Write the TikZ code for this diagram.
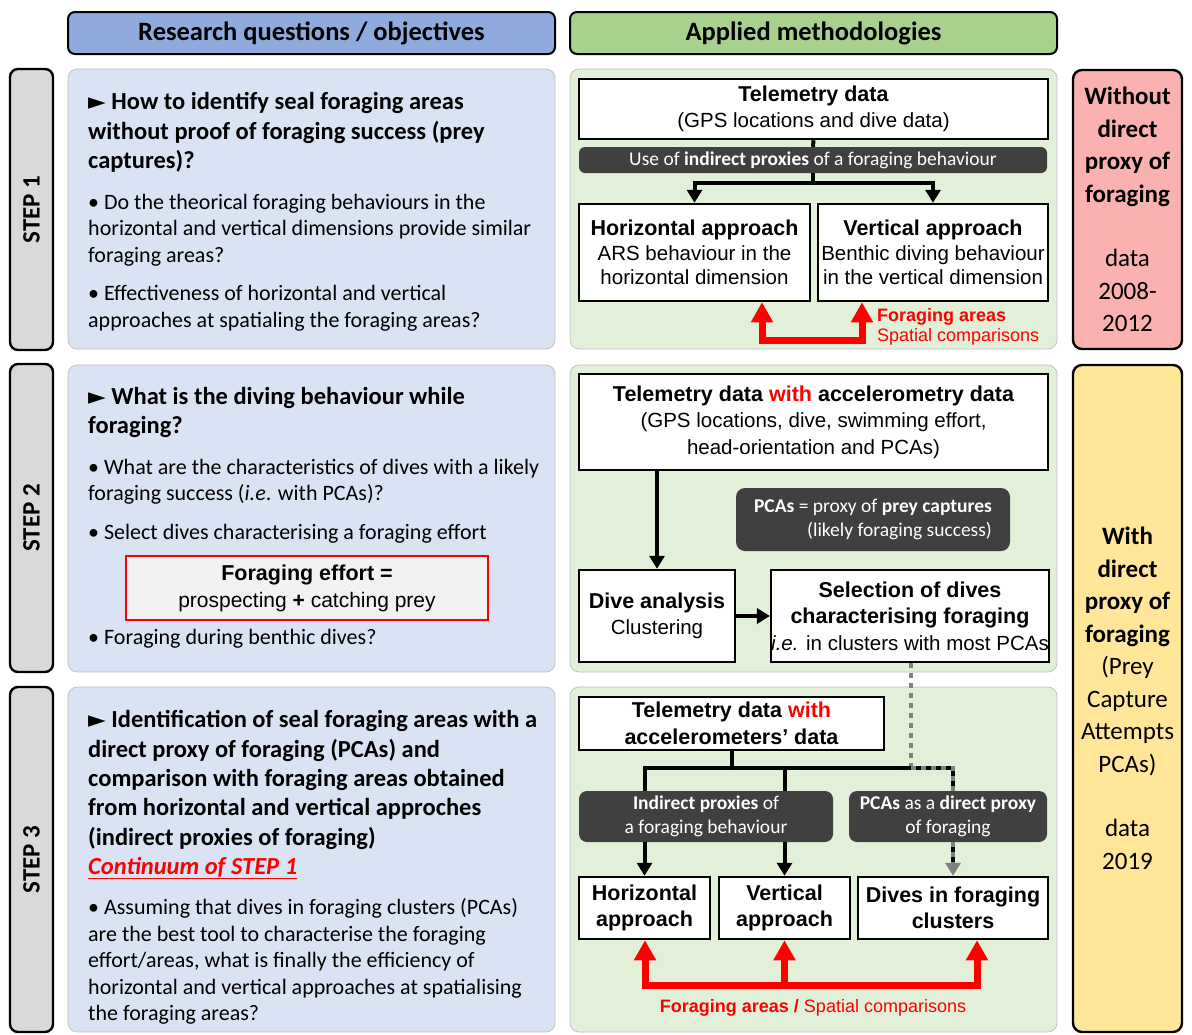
\documentclass[tikz,border=0pt]{standalone}
\usepackage{fontspec}
\setmainfont{Carlito}
\newfontfamily\arialfont{Liberation Sans}
\newfontfamily\symfont{DejaVu Sans}
\usetikzlibrary{arrows.meta}

\definecolor{hblue}{RGB}{143,170,220}
\definecolor{hgreen}{RGB}{169,209,142}
\definecolor{pblue}{RGB}{218,227,243}
\definecolor{pgreen}{RGB}{226,240,217}
\definecolor{stepgray}{RGB}{217,217,217}
\definecolor{bandgray}{RGB}{64,64,64}
\definecolor{pinkbox}{RGB}{250,177,175}
\definecolor{yellowbox}{RGB}{255,230,153}
\definecolor{effortgray}{RGB}{242,242,242}

\newcommand{\tri}{{\symfont\fontsize{23}{20}\selectfont ►}}
\newcommand{\hd}[1]{{\fontsize{21.5}{26.5}\selectfont\bfseries #1}}

\begin{document}
\begin{tikzpicture}[x=1pt, y=-1pt,
    head/.style={draw, line width=2pt, rounded corners=7pt, minimum width=487pt, minimum height=42pt, font=\fontsize{26.5}{30}\selectfont\bfseries},
    stepbox/.style={draw, line width=2.4pt, fill=stepgray, rounded corners=8pt, rotate=90, minimum height=43pt, font=\fontsize{25}{28}\selectfont\bfseries},
    panel/.style={draw=black!25, line width=0.7pt, rounded corners=9pt, minimum width=487pt},
    sidebox/.style={draw, line width=2.4pt, rounded corners=9pt, minimum width=109pt, align=center, font=\fontsize{25}{32.5}\selectfont},
    qtext/.style={anchor=west, align=left, inner sep=0pt, font=\fontsize{24.5}{29.3}\selectfont\bfseries},
    btext/.style={anchor=west, align=left, inner sep=0pt, font=\fontsize{22}{26.5}\selectfont},
    fbox/.style={draw, line width=2.5pt, fill=white, align=center, inner sep=0pt, font=\arialfont\fontsize{20.5}{26.5}\selectfont},
    band/.style={fill=bandgray, rounded corners=6pt, text=white, align=center, inner sep=0pt, font=\fontsize{19.5}{24}\selectfont},
    conn/.style={line width=4pt},
    arr/.style={conn, -{Triangle[width=15pt,length=13pt]}},
    redarr/.style={draw=red, line width=7pt, line join=miter, {Triangle[width=21pt,length=20pt]}-{Triangle[width=21pt,length=20pt]}},
    redup/.style={draw=red, line width=7pt, -{Triangle[width=21pt,length=20pt]}},
    redtxt/.style={text=red, align=left, inner sep=0pt, font=\arialfont\fontsize{18}{20}\selectfont},
    dotgray/.style={conn, gray, dash pattern=on 5pt off 5pt}]
  \useasboundingbox (0,0) rectangle (1192,1034);
  \node[head, fill=hblue] (hq) at (311.5,33) {Research questions / objectives};
  \node[head, fill=hgreen] (hm) at (813.5,33) {Applied methodologies};
  \node[stepbox, minimum width=281pt] (s1) at (31.5,209.5) {STEP 1};
  \node[stepbox, minimum width=308pt] (s2) at (31.5,518) {STEP 2};
  \node[stepbox, minimum width=345pt] (s3) at (31.5,859.5) {STEP 3};
  \node[panel, fill=pblue, minimum height=280pt] (p1) at (311.5,209) {};
  \node[panel, fill=pblue, minimum height=307pt] (p2) at (311.5,518.5) {};
  \node[panel, fill=pblue, minimum height=345pt] (p3) at (311.5,859.5) {};
  \node[panel, fill=pgreen, minimum height=280pt] (g1) at (813.5,209) {};
  \node[panel, fill=pgreen, minimum height=307pt] (g2) at (813.5,518.5) {};
  \node[panel, fill=pgreen, minimum height=345pt] (g3) at (813.5,859.5) {};
  \node[sidebox, fill=pinkbox, minimum height=279pt] (w1) at (1127.5,209.5)
    {\textbf{Without}\\\textbf{direct}\\\textbf{proxy of}\\\textbf{foraging}\\[32pt]data\\2008-\\2012};
  \node[sidebox, fill=yellowbox, minimum height=667pt] (w2) at (1127.5,698.5)
    {\textbf{With}\\\textbf{direct}\\\textbf{proxy of}\\\textbf{foraging}\\(Prey\\Capture\\Attempts\\PCAs)\\[32pt]data\\2019};

  % questions
  \node[qtext] (q1) at (88,132.5) {\tri{} How to identify seal foraging areas\\without proof of foraging success (prey\\captures)?};
  \node[btext] (b11) at (88,230) {• Do the theorical foraging behaviours in the\\horizontal and vertical dimensions provide similar\\foraging areas?};
  \node[btext] (b12) at (88,308) {• Effectiveness of horizontal and vertical\\approaches at spatialing the foraging areas?};
  \node[qtext] (q2) at (88,412.5) {\tri{} What is the diving behaviour while\\foraging?};
  \node[btext] (b21) at (88,481.5) {• What are the characteristics of dives with a likely\\foraging success (\textit{i.e}. with PCAs)?};
  \node[btext] (b22) at (88,534) {• Select dives characterising a foraging effort};
  \node[fbox, draw=red, line width=1.8pt, fill=effortgray, minimum width=362pt, minimum height=64pt, font=\arialfont\fontsize{21}{27}\selectfont] (effort) at (307,588)
    {\hd{Foraging effort =}\\prospecting \textbf{+} catching prey};
  \node[btext] (b23) at (88,639) {• Foraging during benthic dives?};
  \node[qtext] (q3) at (88,795) {\tri{} Identification of seal foraging areas with a\\direct proxy of foraging (PCAs) and\\comparison with foraging areas obtained\\from horizontal and vertical approches\\(indirect proxies of foraging)\\\textcolor{red}{\underline{\textit{Continuum of STEP 1}}}};
  \node[btext] (b31) at (88,961.5) {• Assuming that dives in foraging clusters (PCAs)\\are the best tool to characterise the foraging\\effort/areas, what is finally the efficiency of\\horizontal and vertical approaches at spatialising\\the foraging areas?};

  % step 1
  \node[fbox, minimum width=469pt, minimum height=60pt] (tele1) at (813.5,109) {\hd{Telemetry data}\\(GPS locations and dive data)};
  \node[band, minimum width=468pt, minimum height=26pt] (band1) at (813,160) {Use of \textbf{indirect proxies} of a foraging behaviour};
  \node[fbox, minimum width=231pt, minimum height=97pt, font=\arialfont\fontsize{20.5}{24.5}\selectfont] (hor1) at (694.5,252.5) {\hd{Horizontal approach}\\ARS behaviour in the\\horizontal dimension};
  \node[fbox, minimum width=230pt, minimum height=97pt, font=\arialfont\fontsize{20.5}{24.5}\selectfont] (ver1) at (933,252.5) {\hd{Vertical approach}\\Benthic diving behaviour\\in the vertical dimension};
  \coordinate (j1) at (813,183);
  \draw[conn] (tele1.south) -- (band1.north);
  \draw[arr] (band1.south) -- (j1) -| (hor1.north);
  \draw[arr] (j1) -| (ver1.north);
  \coordinate (rl) at (762,340);
  \coordinate (rr) at (862,340);
  \draw[redarr] (hor1.south -| rl) -- (rl) -- (rr) -- (ver1.south -| rr);
  \node[redtxt, anchor=west] (fa1) at (877,327) {\textbf{Foraging areas}\\Spatial comparisons};

  % step 2
  \node[fbox, minimum width=469pt, minimum height=96pt] (tele2) at (813.5,422) {\hd{Telemetry data \textcolor{red}{with} accelerometry data}\\(GPS locations, dive, swimming effort,\\head-orientation and PCAs)};
  \node[band, minimum width=274pt, minimum height=63pt, rounded corners=9pt, align=right] (pca) at (873,519.5) {\textbf{PCAs} = proxy of \textbf{prey captures}\\(likely foraging success)};
  \node[fbox, minimum width=156pt, minimum height=92pt] (dive) at (657,616) {\hd{Dive analysis}\\Clustering};
  \node[fbox, minimum width=276pt, minimum height=92pt] (sel) at (910,616) {\hd{Selection of dives}\\\hd{characterising foraging}\\\textit{i.e.} in clusters with most PCAs};
  \draw[arr] (tele2.south -| dive.north) -- (dive.north);
  \draw[arr] (dive.east) -- (sel.west);
  \coordinate (dj) at (911,768);
  \draw[dotgray] (sel.south -| dj) -- (dj);

  % step 3
  \node[fbox, minimum width=305pt, minimum height=53pt] (tele3) at (731.5,723.5) {\hd{Telemetry data \textcolor{red}{with}}\\\hd{accelerometers’ data}};
  \node[band, minimum width=254pt, minimum height=51pt, rounded corners=8pt] (ind) at (706,816.5) {\textbf{Indirect proxies} of\\a foraging behaviour};
  \node[band, minimum width=198pt, minimum height=51pt, rounded corners=8pt] (dir) at (948,816.5) {\textbf{PCAs} as a \textbf{direct proxy}\\of foraging};
  \node[fbox, minimum width=131pt, minimum height=62pt] (hor3) at (644.5,908) {\hd{Horizontal}\\\hd{approach}};
  \node[fbox, minimum width=131pt, minimum height=62pt] (ver3) at (784.5,908) {\hd{Vertical}\\\hd{approach}};
  \node[fbox, minimum width=190pt, minimum height=62pt] (dives3) at (953,908) {\hd{Dives in foraging}\\\hd{clusters}};
  \draw[conn] (tele3.south) -- (tele3.south |- dj);
  \draw[conn] (ind.north -| hor3) |- (dj);
  \draw[conn] (ind.north -| ver3) -- (ver3 |- dj);
  \draw[conn] (dj) -| (dir.north -| dives3);
  \draw[dotgray] (dj) -| (dir.north -| dives3);
  \draw[arr] (ind.south -| hor3) -- (hor3.north);
  \draw[arr] (ind.south -| ver3) -- (ver3.north);
  \draw[conn, shorten >=12pt] (dir.south -| dives3) -- (dives3.north);
  \draw[arr, gray, dash pattern=on 5pt off 5pt] (dir.south -| dives3) -- (dives3.north);
  \coordinate (rb1) at (645,985);
  \coordinate (rb3) at (977,985);
  \draw[redarr] (hor3.south -| rb1) -- (rb1) -- (rb3) -- (dives3.south -| rb3);
  \draw[redup] (ver3 |- rb1) -- (ver3.south);
  \node[redtxt] (fa3) at (813,1008) {\textbf{Foraging areas /} Spatial comparisons};
\end{tikzpicture}
\end{document}
